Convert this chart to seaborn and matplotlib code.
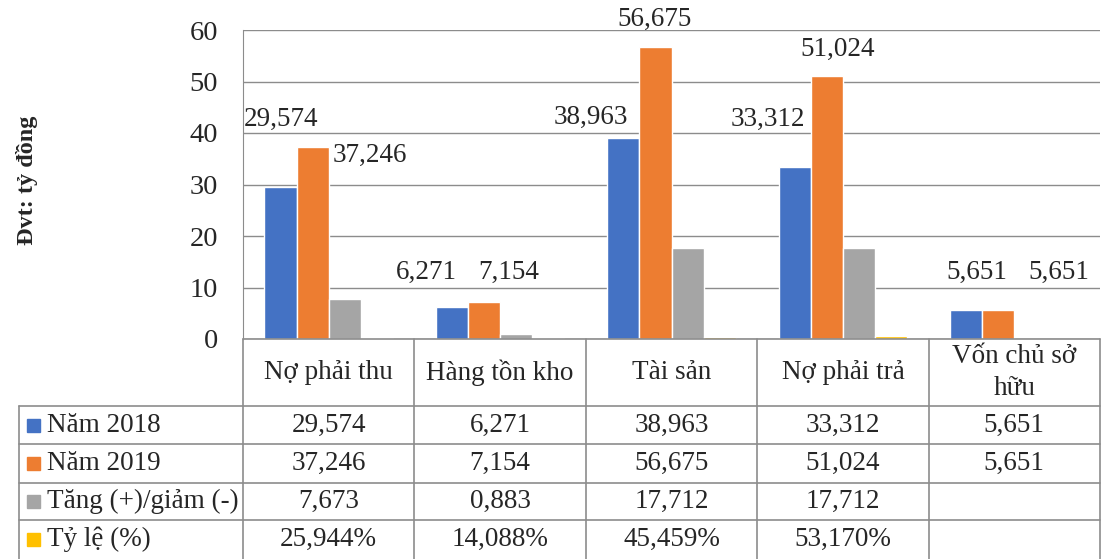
import matplotlib
matplotlib.use("Agg")
import matplotlib.pyplot as plt
from matplotlib.patches import Rectangle
import pandas as pd
import seaborn as sns

categories = ["Nợ phải thu", "Hàng tồn kho", "Tài sản", "Nợ phải trả", "Vốn chủ sở\nhữu"]
series_names = ["Năm 2018", "Năm 2019", "Tăng (+)/giảm (-)", "Tỷ lệ (%)"]
nam_2018 = [29.574, 6.271, 38.963, 33.312, 5.651]
nam_2019 = [37.246, 7.154, 56.675, 51.024, 5.651]
tang_giam = [7.673, 0.883, 17.712, 17.712, None]
ty_le = [25.944, 14.088, 45.459, 53.170, None]  # percent, plotted as fraction
colors = ["#4472C4", "#ED7D31", "#A5A5A5", "#FFC000"]

# manual label placement (offset in category units, y in data units)
lab_2018 = [(-0.28, 42.7), (-0.43, 12.9), (-0.47, 43.0), (-0.44, 42.7), (-0.22, 12.9)]
lab_2019 = [(0.24, 35.7), (0.05, 12.9), (-0.10, 62.0), (-0.03, 56.3), (0.26, 12.9)]

rows = []
for i, c in enumerate(categories):
    for name, vals, scale in [(series_names[0], nam_2018, 1), (series_names[1], nam_2019, 1),
                              (series_names[2], tang_giam, 1), (series_names[3], ty_le, 0.01)]:
        v = vals[i]
        rows.append({"cat": c, "series": name, "value": None if v is None else v * scale})
df = pd.DataFrame(rows)

sns.set_style("white")
plt.rcParams["font.family"] = ["Liberation Serif", "DejaVu Serif"]
FS = 19.5

fig = plt.figure(figsize=(11.02, 5.59), dpi=100)
ax = fig.add_axes([243 / 1102, 1 - 339 / 559, 857 / 1102, 309 / 559])
sns.barplot(data=df, x="cat", y="value", hue="series", palette=colors, width=0.75,
            order=categories, hue_order=series_names, legend=False, ax=ax, saturation=1)

ax.set_ylim(0, 60)
ax.set_xlim(-0.5, 4.5)
ax.set_yticks(range(0, 61, 10))
ax.tick_params(axis="y", labelsize=20.5, length=0, pad=18)
ax.set_xticks([])
ax.set_xlabel("")
ax.set_ylabel("")
ax.yaxis.grid(True, color="#8c8c8c", linewidth=1)
ax.set_axisbelow(True)
for s in ["top", "right", "bottom"]:
    ax.spines[s].set_visible(False)
ax.spines["left"].set_color("#8c8c8c")

fmt = lambda v: f"{v:.3f}".replace(".", ",")
for i in range(len(categories)):
    dx, y = lab_2018[i]
    ax.text(i + dx, y, fmt(nam_2018[i]), ha="center", va="center", fontsize=FS)
    dx, y = lab_2019[i]
    ax.text(i + dx, y, fmt(nam_2019[i]), ha="center", va="center", fontsize=FS)

fig.text(27 / 1102, 1 - 180 / 559, "Đvt: tỷ đồng", rotation=90, ha="center", va="center",
         fontsize=17.5, fontweight="bold")

# data table under the axes
tr = ax.get_xaxis_transform()
h = 309
ylines = [0, -(406 - 339) / h, -(444 - 339) / h, -(483 - 339) / h, -(520 - 339) / h, -(559 - 339) / h]
xleft = -0.5 - (243 - 19) / (857 / 5)
lc = "#8c8c8c"
kw = dict(transform=tr, clip_on=False, color=lc, linewidth=1.2)
ax.plot([-0.5, 4.5], [0, 0], **kw)
for y in ylines[1:5]:
    ax.plot([xleft, 4.5], [y, y], **kw)
for xv in [-0.5, 0.5, 1.5, 2.5, 3.5, 4.5]:
    ax.plot([xv, xv], [0, ylines[-1]], **kw)
ax.plot([xleft, xleft], [ylines[1], ylines[-1]], **kw)

for i, c in enumerate(categories):
    ax.text(i, (ylines[0] + ylines[1]) / 2, c, transform=tr, ha="center", va="center",
            fontsize=FS, linespacing=1.35, clip_on=False)

table_vals = [nam_2018, nam_2019, tang_giam, ty_le]
sq_w = (40 - 27) / (857 / 5)
for r, name in enumerate(series_names):
    ymid = (ylines[r + 1] + ylines[r + 2]) / 2
    ax.add_patch(Rectangle((xleft + (27 - 19) / (857 / 5), ymid - 6.5 / h), sq_w, 13 / h,
                           transform=tr, clip_on=False, color=colors[r]))
    ax.text(xleft + (47 - 19) / (857 / 5), ymid, name, transform=tr, ha="left", va="center",
            fontsize=FS, clip_on=False)
    for i, v in enumerate(table_vals[r]):
        if v is None:
            continue
        s = fmt(v) + ("%" if r == 3 else "")
        ax.text(i, ymid, s, transform=tr, ha="center", va="center", fontsize=FS, clip_on=False)

fig.savefig("out.png", dpi=100)
